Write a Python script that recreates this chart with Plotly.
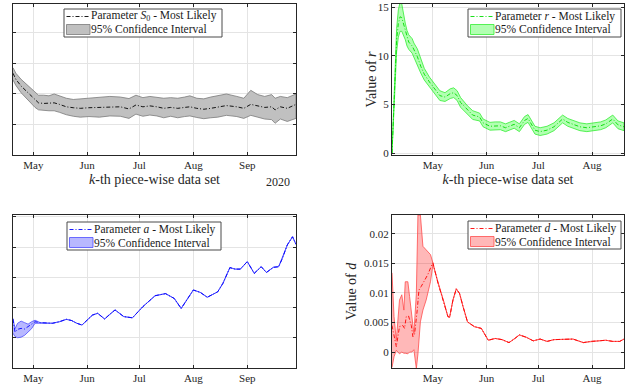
import plotly.graph_objects as go

# ---------------- Parameter S0 (top left) ----------------
s0_dates = ["2020-04-19 08:00", "2020-04-21", "2020-04-24", "2020-04-27", "2020-04-30",
            "2020-05-02", "2020-05-04", "2020-05-07", "2020-05-10", "2020-05-13",
            "2020-05-16", "2020-05-20", "2020-05-24", "2020-05-28", "2020-06-02",
            "2020-06-08", "2020-06-14", "2020-06-20", "2020-06-25", "2020-06-29",
            "2020-07-03", "2020-07-07", "2020-07-11", "2020-07-15", "2020-07-19",
            "2020-07-23", "2020-07-27", "2020-07-30", "2020-08-03", "2020-08-07",
            "2020-08-11", "2020-08-15", "2020-08-20", "2020-08-26", "2020-08-30",
            "2020-09-03", "2020-09-07", "2020-09-11", "2020-09-15", "2020-09-17",
            "2020-09-20", "2020-09-24", "2020-09-29"]
s0_mean = [2.68, 2.48, 2.26, 2.09, 1.92, 1.80, 1.71, 1.69, 1.70, 1.71,
           1.66, 1.58, 1.55, 1.53, 1.55, 1.56, 1.58, 1.58, 1.51, 1.64,
           1.58, 1.61, 1.58, 1.53, 1.56, 1.53, 1.56, 1.58, 1.53, 1.50,
           1.53, 1.56, 1.62, 1.58, 1.53, 1.66, 1.61, 1.56, 1.58, 1.48,
           1.58, 1.53, 1.66]
s0_lower = [2.46, 2.28, 2.04, 1.86, 1.68, 1.56, 1.48, 1.46, 1.45, 1.45,
            1.40, 1.32, 1.27, 1.24, 1.26, 1.24, 1.28, 1.27, 1.20, 1.34,
            1.27, 1.31, 1.28, 1.22, 1.27, 1.22, 1.26, 1.28, 1.23, 1.19,
            1.22, 1.24, 1.30, 1.26, 1.20, 1.30, 1.24, 1.18, 1.16, 1.04,
            1.18, 1.10, 1.20]
s0_upper = [2.86, 2.68, 2.48, 2.32, 2.16, 2.04, 1.96, 1.96, 1.94, 2.00,
            1.94, 1.86, 1.82, 1.84, 1.86, 1.88, 1.92, 1.90, 1.85, 1.96,
            1.88, 1.92, 1.90, 1.86, 1.88, 1.86, 1.90, 1.94, 1.86, 1.84,
            1.90, 1.94, 2.00, 1.92, 1.86, 2.12, 1.98, 1.92, 1.98, 1.86,
            1.92, 1.88, 2.00]

# ---------------- Parameter r (top right) ----------------
r_dates = ["2020-04-07 08:00", "2020-04-09", "2020-04-10", "2020-04-11", "2020-04-12",
           "2020-04-13", "2020-04-14", "2020-04-15", "2020-04-16", "2020-04-17",
           "2020-04-19", "2020-04-20", "2020-04-22", "2020-04-24", "2020-04-26",
           "2020-04-29", "2020-05-02", "2020-05-05", "2020-05-08", "2020-05-11",
           "2020-05-13", "2020-05-15", "2020-05-17", "2020-05-21", "2020-05-24",
           "2020-05-28", "2020-05-30", "2020-06-03", "2020-06-06", "2020-06-09",
           "2020-06-12", "2020-06-15", "2020-06-17", "2020-06-20", "2020-06-23",
           "2020-06-25", "2020-06-27", "2020-06-29", "2020-07-02", "2020-07-06",
           "2020-07-10", "2020-07-13", "2020-07-15", "2020-07-18", "2020-07-22",
           "2020-07-25", "2020-07-29", "2020-08-02", "2020-08-06", "2020-08-09",
           "2020-08-13", "2020-08-16", "2020-08-19 12:00"]
r_mean = [0.0, 7.0, 11.6, 13.3, 14.0, 13.9, 13.2, 12.5, 11.8, 11.4,
          11.0, 10.6, 9.9, 8.9, 8.1, 7.3, 6.6, 5.9, 5.75, 6.1,
          6.2, 5.9, 5.2, 4.4, 3.9, 3.7, 3.1, 2.75, 2.8, 2.8,
          2.6, 2.8, 2.95, 2.6, 3.35, 3.55, 3.0, 2.35, 2.2, 2.35,
          2.7, 3.2, 3.5, 3.15, 2.9, 2.7, 2.6, 2.7, 2.8, 3.0,
          3.5, 2.9, 2.7]
r_spread = [0.0, 0.8, 1.2, 1.4, 1.5, 1.4, 1.0, 0.85, 0.8, 0.75,
            0.75, 0.7, 0.8, 0.7, 0.6, 0.5, 0.5, 0.5, 0.45, 0.5,
            0.5, 0.5, 0.5, 0.45, 0.45, 0.4, 0.4, 0.4, 0.4, 0.4,
            0.4, 0.4, 0.4, 0.4, 0.4, 0.4, 0.4, 0.4, 0.4, 0.4,
            0.4, 0.4, 0.4, 0.4, 0.4, 0.4, 0.4, 0.4, 0.4, 0.4,
            0.4, 0.4, 0.4]

# ---------------- Parameter a (bottom left) ----------------
a_dates = ["2020-04-19 08:00", "2020-04-20 12:00", "2020-04-22", "2020-04-24", "2020-04-26",
           "2020-04-28", "2020-04-30", "2020-05-02", "2020-05-05", "2020-05-09",
           "2020-05-12", "2020-05-16", "2020-05-20", "2020-05-23", "2020-05-26",
           "2020-05-29", "2020-06-01", "2020-06-04", "2020-06-07", "2020-06-11",
           "2020-06-14", "2020-06-17", "2020-06-22", "2020-06-27", "2020-07-03",
           "2020-07-10", "2020-07-16", "2020-07-21", "2020-07-25", "2020-08-01",
           "2020-08-05", "2020-08-09", "2020-08-15", "2020-08-18", "2020-08-22",
           "2020-08-25", "2020-08-28", "2020-09-01", "2020-09-05", "2020-09-09",
           "2020-09-12", "2020-09-16", "2020-09-19", "2020-09-21", "2020-09-24",
           "2020-09-27", "2020-09-29"]
a_mean = [1.62, 1.18, 1.28, 1.31, 1.29, 1.37, 1.45, 1.53, 1.50, 1.48,
          1.48, 1.53, 1.61, 1.57, 1.48, 1.42, 1.59, 1.75, 1.81, 1.62,
          1.78, 1.92, 1.70, 1.66, 2.03, 2.39, 2.46, 2.30, 1.97, 2.58,
          2.50, 2.34, 2.52, 2.80, 3.32, 3.27, 3.27, 3.52, 3.13, 3.35,
          3.16, 3.33, 3.35, 3.60, 4.07, 4.34, 4.09]
# confidence interval is only visibly wider than the estimate in late April
a_band_dates = ["2020-04-19 08:00", "2020-04-20 12:00", "2020-04-22", "2020-04-24",
                "2020-04-26", "2020-04-28", "2020-04-30", "2020-05-02"]
a_band_lower = [1.15, 1.04, 1.00, 1.02, 1.08, 1.18, 1.30, 1.48]
a_band_upper = [1.64, 1.30, 1.48, 1.55, 1.50, 1.45, 1.53, 1.58]

# ---------------- Parameter d (bottom right) ----------------
d_dates = ["2020-04-07 08:00", "2020-04-09 20:00", "2020-04-11 16:00", "2020-04-13 14:00",
           "2020-04-14 14:00", "2020-04-15 14:00", "2020-04-16 22:00", "2020-04-18 12:00",
           "2020-04-19 10:00", "2020-04-20 10:00", "2020-04-21 22:00", "2020-04-22 22:00",
           "2020-04-24 05:00", "2020-04-26 05:00", "2020-04-28", "2020-04-30",
           "2020-05-01", "2020-05-04", "2020-05-07", "2020-05-09 16:00",
           "2020-05-10 16:00", "2020-05-12 14:00", "2020-05-14 12:00", "2020-05-16 10:00",
           "2020-05-18 10:00", "2020-05-21", "2020-05-25", "2020-05-29",
           "2020-06-02", "2020-06-06", "2020-06-10", "2020-06-14",
           "2020-06-17", "2020-06-20", "2020-06-24", "2020-06-28",
           "2020-07-02", "2020-07-06", "2020-07-10", "2020-07-15",
           "2020-07-21", "2020-07-27", "2020-07-31", "2020-08-05",
           "2020-08-09", "2020-08-13", "2020-08-17", "2020-08-19 12:00"]
d_mean = [0.0045, 0.0009, 0.0043, 0.0045, 0.0040, 0.0060, 0.0061, 0.0045,
          0.0026, 0.0031, 0.0071, 0.0105, 0.0111, 0.0122, 0.0131, 0.0145,
          0.0151, 0.0116, 0.0088, 0.0060, 0.0059, 0.0088, 0.0107, 0.0099,
          0.0077, 0.0051, 0.0043, 0.0040, 0.0020, 0.0023, 0.0021, 0.0016,
          0.0022, 0.0029, 0.0025, 0.0019, 0.0022, 0.0018, 0.0021, 0.0021,
          0.0022, 0.0016, 0.0018, 0.0019, 0.0020, 0.0018, 0.0018, 0.0022]
# confidence interval is only visibly wider than the estimate until May 1
d_band_dates = ["2020-04-07 08:00", "2020-04-08 12:00", "2020-04-09 20:00", "2020-04-11 16:00",
                "2020-04-13", "2020-04-14 05:00", "2020-04-15", "2020-04-16 12:00",
                "2020-04-17 12:00", "2020-04-18 20:00", "2020-04-20", "2020-04-21 10:00",
                "2020-04-22 08:00", "2020-04-23 18:00", "2020-04-25 05:00", "2020-04-27 02:00",
                "2020-04-29 14:00", "2020-05-01"]
d_band_lower = [-0.0026, -0.0008, 0.0003, -0.0003, 0.0000, -0.0002, -0.0002, -0.0003,
                0.0000, 0.0000, 0.0004, -0.0028, -0.0003, 0.0051, 0.0071, 0.0088,
                0.0119, 0.0148]
d_band_upper = [0.0134, 0.0060, 0.0020, 0.0088, 0.0097, 0.0071, 0.0119, 0.0119,
                0.0094, 0.0054, 0.0031, 0.0099, 0.0232, 0.0232, 0.0179, 0.0173,
                0.0165, 0.0151]

ci_label = "95% Confidence Interval"
s0_label = "Parameter <i>S</i><sub>0</sub> - Most Likely"
r_label = "Parameter <i>r</i> - Most Likely"
a_label = "Parameter <i>a</i> - Most Likely"
d_label = "Parameter <i>d</i> - Most Likely"
x_title = "<i>k</i>-th piece-wise data set"
r_ytitle = "Value of <i>r</i>"
d_ytitle = "Value of <i>d</i>"

SERIF = "Liberation Serif, Times New Roman, serif"
AX_COLOR = "#262626"
GRID_COLOR = "#e4e4e4"
DASHDOT = "4px,2px,1px,2px"
W, H = 630, 390

# colour sets: (mean line, band fill, band edge)
S0_COL = ("#000000", "#c0c0c0", "#7a7a7a")
R_COL = ("#00dd00", "rgba(0,255,0,0.3)", "#33ee33")
A_COL = ("#0000ff", "rgba(0,0,255,0.28)", "#4d4dff")
D_COL = ("#ff0000", "rgba(255,0,0,0.28)", "#ff4d4d")


def band_trace(dates, lower, upper, cols, xa, ya):
    """Closed polygon between the lower and upper bounds."""
    xs = list(dates) + list(dates)[::-1]
    ys = list(upper) + list(lower)[::-1]
    return go.Scatter(x=xs, y=ys, mode="lines", fill="toself", fillcolor=cols[1],
                      line=dict(color=cols[2], width=0.8), name=ci_label,
                      showlegend=False, xaxis=xa, yaxis=ya, hoverinfo="skip")


def mean_trace(dates, values, cols, name, xa, ya):
    return go.Scatter(x=dates, y=values, mode="lines",
                      line=dict(color=cols[0], width=0.9, dash=DASHDOT),
                      name=name, showlegend=False, xaxis=xa, yaxis=ya)


def extend_band(band_dates, band_lo, band_hi, dates, values):
    """After the early period the bounds coincide with the estimate."""
    last = band_dates[-1]
    extra_d = [d for d in dates if d > last]
    extra_v = [v for d, v in zip(dates, values) if d > last]
    return band_dates + extra_d, band_lo + extra_v, band_hi + extra_v


fig = go.Figure()

fig.add_trace(band_trace(s0_dates, s0_lower, s0_upper, S0_COL, "x", "y"))
fig.add_trace(mean_trace(s0_dates, s0_mean, S0_COL, s0_label, "x", "y"))

r_lower = [v - s for v, s in zip(r_mean, r_spread)]
r_upper = [v + s for v, s in zip(r_mean, r_spread)]
fig.add_trace(band_trace(r_dates, r_lower, r_upper, R_COL, "x2", "y2"))
fig.add_trace(mean_trace(r_dates, r_mean, R_COL, r_label, "x2", "y2"))

ab_d, ab_lo, ab_hi = extend_band(a_band_dates, a_band_lower, a_band_upper, a_dates, a_mean)
fig.add_trace(band_trace(ab_d, ab_lo, ab_hi, A_COL, "x3", "y3"))
fig.add_trace(mean_trace(a_dates, a_mean, A_COL, a_label, "x3", "y3"))

db_d, db_lo, db_hi = extend_band(d_band_dates, d_band_lower, d_band_upper, d_dates, d_mean)
fig.add_trace(band_trace(db_d, db_lo, db_hi, D_COL, "x4", "y4"))
fig.add_trace(mean_trace(d_dates, d_mean, D_COL, d_label, "x4", "y4"))

LEFT_X = [13 / W, 296 / W]
RIGHT_X = [392 / W, 624 / W]
TOP_Y = [1 - 155 / H, 1 - 4 / H]
BOT_Y = [1 - 368 / H, 1 - 215 / H]

tick_font = dict(family=SERIF, size=11, color=AX_COLOR)
title_font = dict(family=SERIF, size=14, color=AX_COLOR)


def xaxis(domain, anchor, rng, title=None):
    ax = dict(domain=domain, anchor=anchor, type="date", range=rng,
              tick0="2020-05-01", dtick="M1", tickformat="%b",
              showgrid=True, gridcolor=GRID_COLOR, gridwidth=1,
              showline=True, linecolor=AX_COLOR, linewidth=1, mirror="ticks",
              ticks="inside", ticklen=3, tickcolor=AX_COLOR,
              tickfont=tick_font, zeroline=False, automargin=False)
    if title:
        ax["title"] = dict(text=title, font=title_font, standoff=3)
    return ax


def yaxis(domain, anchor, rng, tickvals, ticktext=None, title=None):
    ax = dict(domain=domain, anchor=anchor, range=rng, tickvals=tickvals,
              showgrid=True, gridcolor=GRID_COLOR, gridwidth=1,
              showline=True, linecolor=AX_COLOR, linewidth=1, mirror="ticks",
              ticks="inside", ticklen=3, tickcolor=AX_COLOR,
              tickfont=tick_font, zeroline=False, automargin=False)
    if ticktext is None:
        ax["showticklabels"] = False
    else:
        ax["ticktext"] = ticktext
    if title:
        ax["title"] = dict(text=title, font=title_font, standoff=4)
    return ax


LEFT_RANGE = ["2020-04-19 08:00", "2020-09-29"]
RIGHT_RANGE = ["2020-04-07 08:00", "2020-08-19 12:00"]

# ---- legend boxes (pixel layout of each panel's key) ----
shapes = []
annotations = []


def px(x):
    return x / W


def py(y):
    return 1 - y / H


def add_key(left, top, right, label, cols):
    """Legend box: dash-dot sample + estimate label, filled swatch + CI label."""
    bottom = top + 28
    shapes.append(dict(type="rect", xref="paper", yref="paper",
                       x0=px(left), x1=px(right), y0=py(bottom), y1=py(top),
                       line=dict(color="#4a4a4a", width=1), fillcolor="white",
                       layer="above"))
    row1 = top + 7.5
    row2 = top + 20.5
    sx0, sx1 = left + 2.5, left + 26
    shapes.append(dict(type="line", xref="paper", yref="paper",
                       x0=px(sx0), x1=px(sx1), y0=py(row1), y1=py(row1),
                       line=dict(color=cols[0], width=0.9, dash=DASHDOT),
                       layer="above"))
    shapes.append(dict(type="rect", xref="paper", yref="paper",
                       x0=px(sx0), x1=px(sx1), y0=py(top + 25.5), y1=py(top + 15.5),
                       line=dict(color=cols[2], width=0.8), fillcolor=cols[1],
                       layer="above"))
    for text, yy in ((label, row1), (ci_label, row2)):
        annotations.append(dict(text=text, xref="paper", yref="paper",
                                x=px(left + 26.5), y=py(yy),
                                xanchor="left", yanchor="middle", showarrow=False,
                                borderpad=0, borderwidth=0,
                                font=dict(family=SERIF, size=11.5, color="#1a1a1a")))


add_key(64, 9, 222, s0_label, S0_COL)
add_key(468, 9, 621, r_label, R_COL)
add_key(67, 222, 221, a_label, A_COL)
add_key(468, 221, 621, d_label, D_COL)

annotations.append(dict(text="2020", xref="paper", yref="paper",
                        x=px(292), y=py(182), xanchor="right", yanchor="middle",
                        showarrow=False, font=dict(family=SERIF, size=12, color=AX_COLOR)))
# y label of the r panel, placed just left of its tick labels
annotations.append(dict(text=r_ytitle, xref="paper", yref="paper",
                        x=px(371), y=py(79.5), xanchor="center", yanchor="middle",
                        textangle=-90, showarrow=False, font=title_font))

fig.update_layout(
    width=W, height=H, autosize=False,
    margin=dict(l=0, r=0, t=0, b=0),
    font=dict(family=SERIF, size=11, color=AX_COLOR),
    paper_bgcolor="white", plot_bgcolor="white",
    showlegend=False,
    xaxis=xaxis(LEFT_X, "y", LEFT_RANGE, x_title),
    yaxis=yaxis(TOP_Y, "x", [0, 4.95], [1, 2, 3, 4]),
    xaxis2=xaxis(RIGHT_X, "y2", RIGHT_RANGE, x_title),
    yaxis2=yaxis(TOP_Y, "x2", [-0.2, 15.31], [0, 5, 10, 15],
                 ["0", "5", "10", "15"]),
    xaxis3=xaxis(LEFT_X, "y3", LEFT_RANGE),
    yaxis3=yaxis(BOT_Y, "x3", [0, 5.06], [1, 2, 3, 4, 5]),
    xaxis4=xaxis(RIGHT_X, "y4", RIGHT_RANGE),
    yaxis4=yaxis(BOT_Y, "x4", [-0.0027, 0.0232],
                 [0, 0.005, 0.01, 0.015, 0.02],
                 ["0", "0.005", "0.01", "0.015", "0.02"], d_ytitle),
    shapes=shapes,
    annotations=annotations,
)

fig.write_html("out.html")
